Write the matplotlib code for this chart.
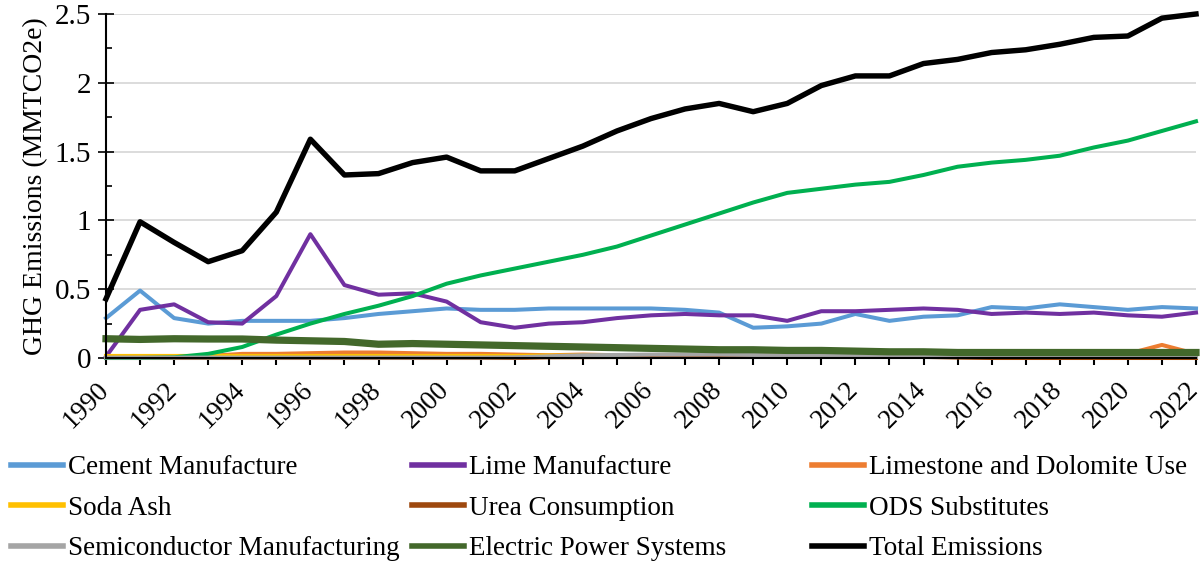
import matplotlib.pyplot as plt
import matplotlib.transforms as mtrans
import numpy as np

plt.rcParams['font.family'] = ['Liberation Serif', 'DejaVu Serif']

# data (MMTCO2e)
years = list(range(1990, 2023))

cement = [0.29, 0.49, 0.29, 0.25, 0.27, 0.27, 0.27, 0.29, 0.32, 0.34, 0.36,
          0.35, 0.35, 0.36, 0.36, 0.36, 0.36, 0.35, 0.33, 0.22, 0.23, 0.25,
          0.32, 0.27, 0.30, 0.31, 0.37, 0.36, 0.39, 0.37, 0.35, 0.37, 0.36]
lime = [0.01, 0.35, 0.39, 0.26, 0.25, 0.45, 0.90, 0.53, 0.46, 0.47, 0.41,
        0.26, 0.22, 0.25, 0.26, 0.29, 0.31, 0.32, 0.31, 0.31, 0.27, 0.34,
        0.34, 0.35, 0.36, 0.35, 0.32, 0.33, 0.32, 0.33, 0.31, 0.30, 0.33]
limestone = [0.01, 0.01, 0.01, 0.015, 0.03, 0.03, 0.035, 0.04, 0.04, 0.035, 0.03,
             0.03, 0.025, 0.02, 0.025, 0.02, 0.02, 0.02, 0.02, 0.015, 0.015, 0.015,
             0.015, 0.015, 0.015, 0.02, 0.02, 0.02, 0.02, 0.02, 0.03, 0.095, 0.03]
soda_ash = [0.015, 0.015, 0.015, 0.015, 0.015, 0.015, 0.015, 0.015, 0.015, 0.015, 0.015,
            0.015, 0.015, 0.018, 0.018, 0.02, 0.02, 0.02, 0.02, 0.02, 0.02, 0.02,
            0.018, 0.018, 0.018, 0.015, 0.015, 0.015, 0.015, 0.015, 0.015, 0.015, 0.015]
urea = [0.0, 0.0, 0.0, 0.0, 0.0, 0.0, 0.0, 0.0, 0.0, 0.0, 0.0,
        0.0, 0.0, 0.005, 0.006, 0.007, 0.007, 0.008, 0.008, 0.008, 0.008, 0.008,
        0.008, 0.008, 0.008, 0.003, 0.0, 0.0, 0.0, 0.0, 0.0, 0.0, 0.0]
ods = [0.0, 0.0, 0.005, 0.03, 0.08, 0.17, 0.25, 0.32, 0.38, 0.45, 0.54,
       0.60, 0.65, 0.70, 0.75, 0.81, 0.89, 0.97, 1.05, 1.13, 1.20, 1.23,
       1.26, 1.28, 1.33, 1.39, 1.42, 1.44, 1.47, 1.53, 1.58, 1.65, 1.72]
semiconductor = [0.003, 0.003, 0.003, 0.003, 0.003, 0.003, 0.003, 0.003, 0.003, 0.003, 0.003,
                 0.003, 0.005, 0.012, 0.02, 0.022, 0.025, 0.025, 0.025, 0.022, 0.02, 0.02,
                 0.018, 0.015, 0.012, 0.01, 0.008, 0.008, 0.008, 0.008, 0.008, 0.008, 0.008]
electric = [0.14, 0.135, 0.14, 0.138, 0.138, 0.13, 0.125, 0.12, 0.10, 0.105, 0.10,
            0.095, 0.09, 0.085, 0.08, 0.075, 0.07, 0.065, 0.06, 0.06, 0.055, 0.055,
            0.05, 0.045, 0.045, 0.04, 0.04, 0.04, 0.04, 0.04, 0.04, 0.04, 0.04]
total = [0.43, 0.99, 0.84, 0.70, 0.78, 1.06, 1.59, 1.33, 1.34, 1.42, 1.46,
         1.36, 1.36, 1.45, 1.54, 1.65, 1.74, 1.81, 1.85, 1.79, 1.85, 1.98,
         2.05, 2.05, 2.14, 2.17, 2.22, 2.24, 2.28, 2.33, 2.34, 2.47, 2.50]

series = [
    ('Cement Manufacture', cement, '#5B9BD5', 2.9),
    ('Lime Manufacture', lime, '#7030A0', 2.9),
    ('Limestone and Dolomite Use', limestone, '#ED7D31', 2.9),
    ('Soda Ash', soda_ash, '#FFC000', 2.9),
    ('Urea Consumption', urea, '#9E480E', 2.9),
    ('ODS Substitutes', ods, '#00B050', 2.9),
    ('Semiconductor Manufacturing', semiconductor, '#A5A5A5', 2.9),
    ('Electric Power Systems', electric, '#43682B', 5.2),
    ('Total Emissions', total, '#000000', 3.9),
]

fig = plt.figure(figsize=(12.02, 5.61), dpi=100)
ax = fig.add_axes([106 / 1202, 1 - 358 / 561, 1090 / 1202, 344 / 561])

handles = []
for name, vals, col, lw in series:
    h, = ax.plot(years, vals, color=col, lw=lw, label=name, clip_on=False)
    handles.append(h)

ax.set_xlim(1990, 2022)
ax.set_ylim(0, 2.5)
ax.set_yticks(np.arange(0, 2.51, 0.5))
ax.set_yticklabels(['0', '0.5', '1', '1.5', '2', '2.5'])
ax.set_yticks(np.arange(0, 2.51, 0.25), minor=True)
ax.set_xticks(years)
ax.set_xticklabels([str(y) if y % 2 == 0 else '' for y in years],
                   rotation=45, ha='right', va='top', rotation_mode='anchor')
ax.tick_params(axis='x', direction='out', length=5, width=1.5, labelsize=19.5, pad=9)
ax.tick_params(axis='y', which='major', direction='inout', length=11, width=1.2, labelsize=21, pad=5)
ax.tick_params(axis='y', which='minor', direction='in', length=4, width=1.2)
shift = mtrans.ScaledTranslation(-10 / 100, 0, fig.dpi_scale_trans)
for lbl in ax.get_xticklabels():
    lbl.set_transform(lbl.get_transform() + shift)
ax.grid(axis='y', which='major', color='#D9D9D9', lw=1.3, zorder=0)
ax.set_axisbelow(True)
for s in ['top', 'right']:
    ax.spines[s].set_visible(False)
ax.spines['left'].set_linewidth(1.5)
ax.spines['bottom'].set_linewidth(1.5)
ax.set_ylabel('GHG Emissions (MMTCO2e)', fontsize=20)
ax.yaxis.set_label_coords(-0.053, 0.5)

# legend in three columns, row-wise order
col_x = [11, 412, 812]
for c in range(3):
    hs = [handles[c], handles[c + 3], handles[c + 6]]
    leg = fig.legend(handles=hs, loc='upper left',
                     bbox_to_anchor=(col_x[c] / 1202, 1 - 455 / 561),
                     frameon=False, fontsize=19.5, handlelength=1.92,
                     handletextpad=0.18, labelspacing=0.58,
                     borderpad=0, borderaxespad=0)
    for ln in leg.get_lines():
        ln.set_linewidth(4)

fig.savefig('out.png', dpi=100)
